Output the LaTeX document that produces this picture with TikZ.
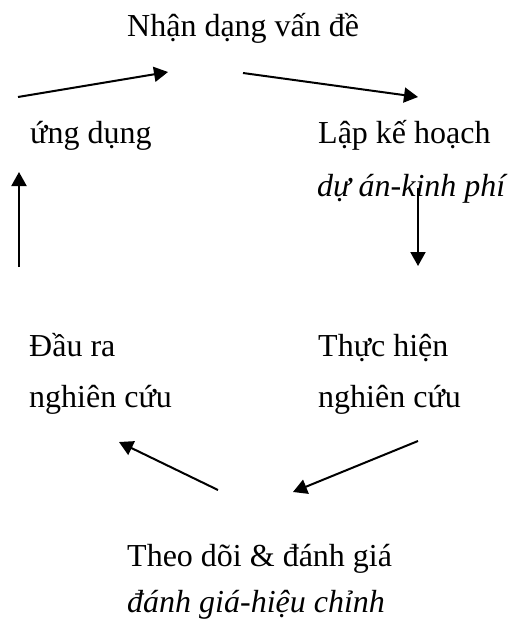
\documentclass[tikz,border=0pt]{standalone}
\usepackage{fontspec}
\setmainfont{Liberation Serif}
\usetikzlibrary{arrows.meta}
\tikzset{
  txt/.style={anchor=base west, inner sep=0pt, font=\fontsize{32}{38}\selectfont},
  txti/.style={txt, font=\fontsize{32}{38}\selectfont\itshape},
  arr/.style={line width=2pt, -{Triangle[length=14pt,width=15pt]}}
}
\begin{document}
\begin{tikzpicture}[x=1pt,y=-1pt]
\useasboundingbox[fill=white] (0,0) rectangle (509,626);
\node[txt] (top) at (127,37) {Nhận dạng vấn đề};
\node[txt] (app) at (30,143) {ứng dụng};
\node[txt] (plan) at (318,143) {Lập kế hoạch};
\node[txti] (plan2) at (317,196) {dự án-kinh phí};
\node[txt] (out1) at (29,356) {Đầu ra};
\node[txt] (out2) at (29,407) {nghiên cứu};
\node[txt] (do1) at (318,356) {Thực hiện};
\node[txt] (do2) at (318,407) {nghiên cứu};
\node[txt] (mon) at (127,566) {Theo dõi \& đánh giá};
\node[txti] (mon2) at (127,612) {đánh giá-hiệu chỉnh};
\coordinate (a1s) at (18,97);  \coordinate (a1e) at (168,72);
\coordinate (a2s) at (243,73); \coordinate (a2e) at (418,97);
\coordinate (a3s) at (418,188); \coordinate (a3e) at (418,266);
\coordinate (a4s) at (19,267); \coordinate (a4e) at (19,172);
\coordinate (a5s) at (218,490); \coordinate (a5e) at (119,442);
\coordinate (a6s) at (418,441); \coordinate (a6e) at (293,492);
\draw[arr] (a1s) -- (a1e);
\draw[arr] (a2s) -- (a2e);
\draw[arr] (a3s) -- (a3e);
\draw[arr] (a4s) -- (a4e);
\draw[arr] (a5s) -- (a5e);
\draw[arr] (a6s) -- (a6e);
\end{tikzpicture}
\end{document}
